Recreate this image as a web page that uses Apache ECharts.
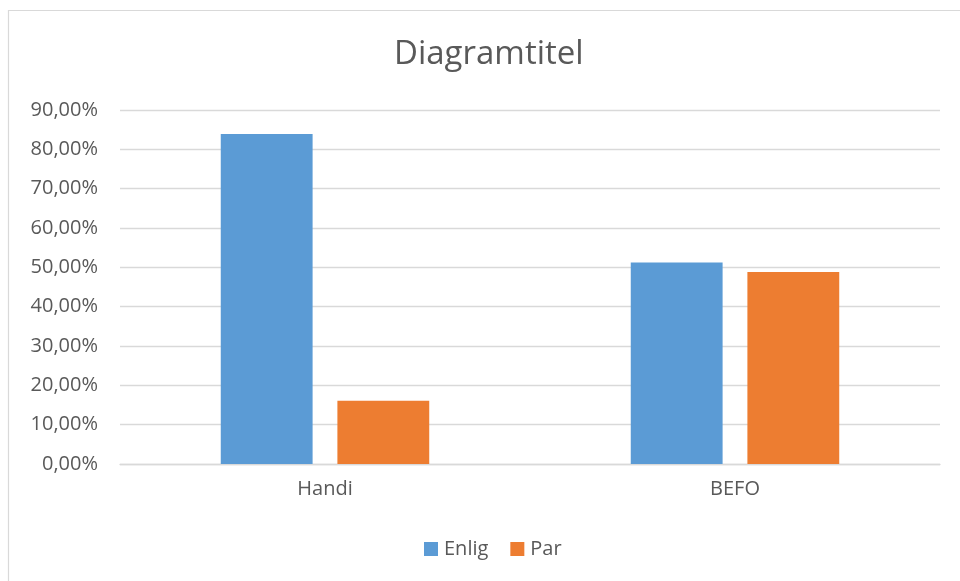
<!DOCTYPE html>
<html><head><meta charset="utf-8">
<script src="https://cdn.jsdelivr.net/npm/echarts@6/dist/echarts.min.js"></script>
<style>html,body{margin:0;padding:0;background:#fff;}#c{width:960px;height:581px;}</style>
</head><body><div id="c"></div>
<script>
const categories = ['Handi', 'BEFO'];
const seriesNames = ['Enlig', 'Par'];
const enlig = [0.839, 0.512];
const par = [0.161, 0.488];
const yTicks = [0, 0.1, 0.2, 0.3, 0.4, 0.5, 0.6, 0.7, 0.8, 0.9];

const chart = echarts.init(document.getElementById('c'), null, {renderer: 'canvas'});
const font = '"Open Sans", "Noto Sans", sans-serif';
chart.setOption({
  animation: false,
  backgroundColor: '#fff',
  graphic: [{type: 'rect', shape: {x: 8.5, y: 10.5, width: 980, height: 600}, style: {fill: 'none', stroke: '#D9D9D9', lineWidth: 1.2}, silent: true}],
  title: {text: 'Diagramtitel', left: 389, top: 33,
    textStyle: {fontFamily: font, fontSize: 33, fontWeight: 'normal', color: '#595959'}},
  legend: {data: seriesNames, left: 419, top: 534, itemWidth: 14, itemHeight: 14, itemGap: 22,
    icon: 'rect', textStyle: {fontFamily: font, fontSize: 20, color: '#595959', padding: [0, 0, 0, 1]}},
  grid: {left: 120, right: 20, top: 110, bottom: 117, containLabel: false},
  xAxis: {type: 'category', data: categories,
    axisLine: {lineStyle: {color: '#D9D9D9', width: 1.3}}, axisTick: {show: false},
    axisLabel: {fontFamily: font, fontSize: 20, color: '#595959', margin: 15}},
  yAxis: {type: 'value', min: 0, max: 0.9, interval: 0.1,
    axisLine: {show: false}, axisTick: {show: false},
    splitLine: {lineStyle: {color: '#D9D9D9', width: 1.3}},
    axisLabel: {fontFamily: font, fontSize: 20, color: '#595959', margin: 22,
      formatter: v => (v * 100).toFixed(2).replace('.', ',') + '%'}},
  series: [
    {name: seriesNames[0], type: 'bar', data: enlig, barWidth: '22.4%', barGap: '27%', itemStyle: {color: '#5B9BD5'}},
    {name: seriesNames[1], type: 'bar', data: par, barWidth: '22.4%', barGap: '27%', itemStyle: {color: '#ED7D31'}}
  ]
});
</script></body></html>
